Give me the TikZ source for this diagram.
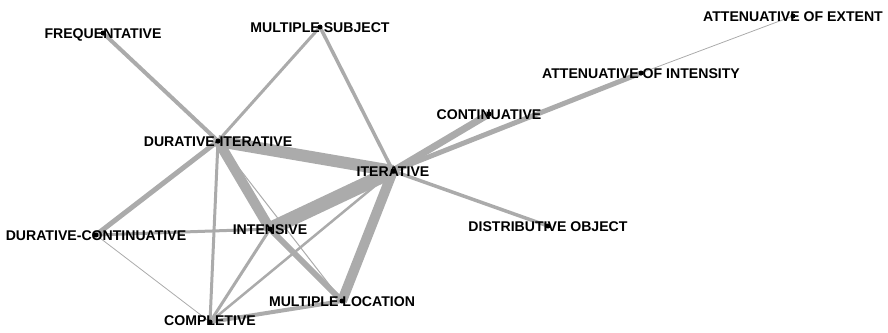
\documentclass[tikz,border=0pt]{standalone}
\usepackage{fontspec}
\setmainfont{Liberation Sans}
\begin{document}
\begin{tikzpicture}[x=1pt,y=-1pt,
  edge/.style={draw=black!33, line width=#1},
  edge/.default=3pt,
  lab/.style={font=\bfseries\fontsize{14.1}{15}\selectfont, inner sep=0pt, text height=10.1pt, text depth=0pt, anchor=center},
  dot/.style={circle, fill=black, inner sep=0pt, minimum size=5pt}]
\useasboundingbox (0,0) rectangle (888,332);
% positions
\coordinate (freq) at (103,33);
\coordinate (msub) at (320,27);
\coordinate (aext) at (793,16);
\coordinate (aint) at (641,73);
\coordinate (cont) at (489,114);
\coordinate (diter) at (218,141);
\coordinate (iter) at (393,171);
\coordinate (dobj) at (548,226);
\coordinate (dcont) at (96,235);
\coordinate (intens) at (270,229);
\coordinate (mloc) at (342,301);
\coordinate (compl) at (210,322);
% edges
\draw[edge=4pt] (freq) -- (diter);
\draw[edge=3pt] (msub) -- (diter);
\draw[edge=3.5pt] (msub) -- (iter);
\draw[edge=0.8pt] (aext) -- (aint);
\draw[edge=5pt] (aint) -- (iter);
\draw[edge=7pt] (cont) -- (iter);
\draw[edge=12pt] (diter) -- (iter);
\draw[edge=14pt] (iter) -- (intens);
\draw[edge=10pt] (iter) -- (mloc);
\draw[edge=3.5pt] (iter) -- (dobj);
\draw[edge=2.5pt] (iter) -- (compl);
\draw[edge=5pt] (diter) -- (dcont);
\draw[edge=3pt] (diter) -- (compl);
\draw[edge=10pt] (diter) -- (intens);
\draw[edge=1pt] (diter) -- (mloc);
\draw[edge=6pt] (intens) -- (mloc);
\draw[edge=3pt] (dcont) -- (intens);
\draw[edge=0.8pt] (dcont) -- (compl);
\draw[edge=3pt] (intens) -- (compl);
\draw[edge=4pt] (compl) -- (mloc);
% labels
\node[lab] (freqL) at (freq) {FREQUENTATIVE};
\node[lab] (msubL) at (msub) {MULTIPLE SUBJECT};
\node[lab] (aextL) at (aext) {ATTENUATIVE OF EXTENT};
\node[lab] (aintL) at (aint) {ATTENUATIVE OF INTENSITY};
\node[lab] (contL) at (cont) {CONTINUATIVE};
\node[lab] (diterL) at (diter) {DURATIVE-ITERATIVE};
\node[lab] (iterL) at (iter) {ITERATIVE};
\node[lab] (dobjL) at (dobj) {DISTRIBUTIVE OBJECT};
\node[lab] (dcontL) at (dcont) {DURATIVE-CONTINUATIVE};
\node[lab] (intensL) at (intens) {INTENSIVE};
\node[lab] (mlocL) at (mloc) {MULTIPLE LOCATION};
\node[lab] (complL) at ([yshift=2pt]compl) {COMPLETIVE};
% dots
\foreach \n in {freq,msub,aext,aint,cont,diter,iter,dobj,dcont,intens,mloc,compl}
  \node[dot] (\n D) at (\n) {};
\end{tikzpicture}
\end{document}
